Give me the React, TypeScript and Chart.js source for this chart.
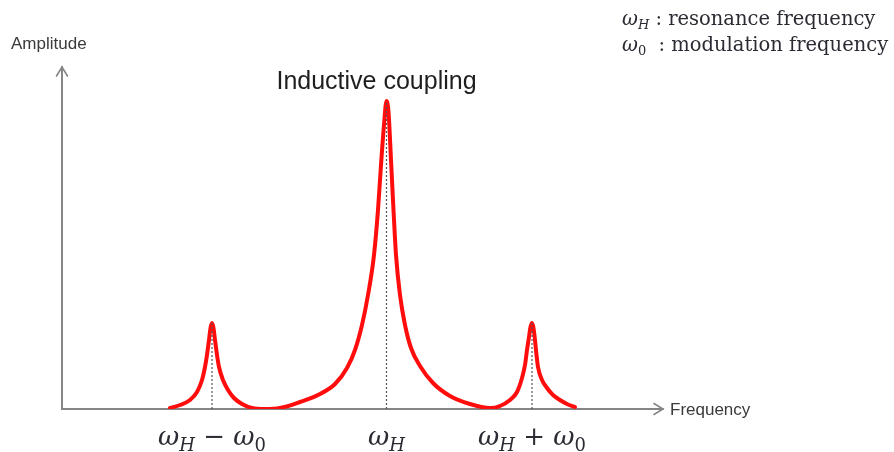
import { useEffect, useRef } from "react";
import { Chart, registerables } from "chart.js";

Chart.register(...registerables);

// Frequency (arbitrary units) and amplitude (arbitrary units)
const curveFreq = [
  108, 118, 128, 135, 140, 143, 145, 147, 148.5, 150, 151.5, 153, 155, 157, 161, 166, 172, 180, 190, 203, 218,
  238, 258, 273, 285, 293, 300, 306, 312, 316, 319, 322, 324.5, 326.5, 329, 331.5, 334, 338, 343, 349, 358, 371, 388, 408, 428,
  438, 448, 455, 460, 463, 465, 467, 468.5, 470, 471.5, 473, 474.5, 476, 480, 485, 491, 498, 505, 513,
];
const curveAmp = [
  1, 4, 9, 17, 29, 42, 54, 69, 81, 86, 81, 69, 54, 42, 29, 19, 11, 5, 1, 0, 1,
  7, 15, 25, 41, 59, 84, 114, 154, 199, 244, 284, 308, 297, 249, 199, 154, 114, 84, 61, 43, 26, 13, 5, 1,
  3, 9, 17, 31, 44, 59, 72, 82, 86, 81, 69, 54, 42, 29, 21, 14, 9, 5, 2,
];
const peakFreq = [150, 324.5, 470];
const peakAmp = [86, 308, 86];
const peakLabels = ["ω_H − ω_0", "ω_H", "ω_H + ω_0"];
const legendLines = ["ω_H : resonance frequency", "ω_0  : modulation frequency"];
const titleText = "Inductive coupling";
const yAxisTitle = "Amplitude";
const xAxisTitle = "Frequency";
const freqRange = [0, 601];
const ampRange = [0, 342];

type Seg = { t: string; sub: boolean; italic: boolean };

function parseMath(s: string): Seg[] {
  const segs: Seg[] = [];
  for (let i = 0; i < s.length; i++) {
    const c = s[i];
    if (c === "_" && i + 1 < s.length) {
      const n = s[++i];
      segs.push({ t: n, sub: true, italic: /[A-Za-z]/.test(n) });
    } else if (c === "ω") {
      segs.push({ t: c, sub: false, italic: true });
    } else {
      const last = segs[segs.length - 1];
      if (last && !last.sub && !last.italic) last.t += c;
      else segs.push({ t: c, sub: false, italic: false });
    }
  }
  return segs;
}

function drawMath(
  ctx: CanvasRenderingContext2D,
  s: string,
  x: number,
  y: number,
  size: number,
  family: string,
  color: string,
  align: "left" | "center"
) {
  const segs = parseMath(s);
  const fontFor = (seg: Seg) =>
    `${seg.italic ? "italic " : ""}${seg.sub ? Math.round(size * 0.68) : size}px ${family}`;
  const widths = segs.map((seg) => {
    ctx.font = fontFor(seg);
    return ctx.measureText(seg.t).width;
  });
  const total = widths.reduce((a, b) => a + b, 0);
  let cx = align === "center" ? x - total / 2 : x;
  ctx.fillStyle = color;
  ctx.textAlign = "left";
  ctx.textBaseline = "alphabetic";
  segs.forEach((seg, i) => {
    ctx.font = fontFor(seg);
    ctx.fillText(seg.t, cx, y + (seg.sub ? size * 0.22 : 0));
    cx += widths[i];
  });
}

const decorPlugin = {
  id: "decor",
  beforeDatasetsDraw(chart: any) {
    const { ctx, chartArea } = chart;
    const { left, right, top, bottom } = chartArea;
    ctx.save();
    ctx.strokeStyle = "#858585";
    ctx.lineWidth = 2;
    ctx.lineCap = "round";
    ctx.beginPath();
    ctx.moveTo(left, top);
    ctx.lineTo(left, bottom);
    ctx.lineTo(right, bottom);
    ctx.stroke();
    ctx.lineWidth = 1.6;
    ctx.beginPath();
    ctx.moveTo(left - 5.5, top + 9);
    ctx.lineTo(left, top);
    ctx.lineTo(left + 5.5, top + 9);
    ctx.moveTo(right - 9, bottom - 5.5);
    ctx.lineTo(right, bottom);
    ctx.lineTo(right - 9, bottom + 5.5);
    ctx.stroke();
    ctx.restore();
  },
  afterDraw(chart: any) {
    const { ctx } = chart;
    const xs = chart.scales.x;
    ctx.save();
    ctx.fillStyle = "#1e1e1e";
    ctx.font = "25px 'Liberation Sans', Arial, sans-serif";
    ctx.textAlign = "center";
    ctx.textBaseline = "alphabetic";
    ctx.fillText(titleText, 376.5, 89);

    ctx.fillStyle = "#3a3a3a";
    ctx.font = "17px 'Liberation Sans', Arial, sans-serif";
    ctx.textAlign = "left";
    ctx.fillText(yAxisTitle, 11, 49);
    ctx.fillText(xAxisTitle, 670, 415);

    peakLabels.forEach((lab, i) => {
      drawMath(ctx, lab, xs.getPixelForValue(peakFreq[i]), 445, 26, "'DejaVu Serif', serif", "#2b2b33", "center");
    });
    legendLines.forEach((line, i) => {
      drawMath(ctx, line, 622, 25 + i * 26, 19.5, "'DejaVu Serif', serif", "#2b2b33", "left");
    });
    ctx.restore();
  },
};

export default function App() {
  const ref = useRef<HTMLCanvasElement | null>(null);
  useEffect(() => {
    document.body.style.margin = "0";
    if (!ref.current) return;
    const dotted = peakFreq.map((f, i) => ({
      data: [
        { x: f, y: 0 },
        { x: f, y: peakAmp[i] },
      ],
      borderColor: "#555555",
      borderWidth: 1.2,
      borderDash: [2, 2],
      pointRadius: 0,
      fill: false,
    }));
    const chart = new Chart(ref.current, {
      type: "line",
      data: {
        datasets: [
          ...dotted,
          {
            data: curveFreq.map((f, i) => ({ x: f, y: curveAmp[i] })),
            borderColor: "#ff0d0d",
            borderWidth: 4,
            pointRadius: 0,
            fill: false,
            cubicInterpolationMode: "monotone",
            borderCapStyle: "round",
            borderJoinStyle: "round",
          } as any,
        ],
      },
      options: {
        animation: false,
        responsive: true,
        maintainAspectRatio: false,
        layout: { padding: { left: 62, right: 231, top: 67, bottom: 43 } },
        plugins: { legend: { display: false }, tooltip: { enabled: false }, title: { display: false } },
        scales: {
          x: { type: "linear", min: freqRange[0], max: freqRange[1], display: false },
          y: { type: "linear", min: ampRange[0], max: ampRange[1], display: false },
        },
        elements: { line: { tension: 0 } },
      },
      plugins: [decorPlugin],
    });
    return () => chart.destroy();
  }, []);
  return (
    <div style={{ width: 894, height: 452, position: "relative" }}>
      <canvas ref={ref} />
    </div>
  );
}
